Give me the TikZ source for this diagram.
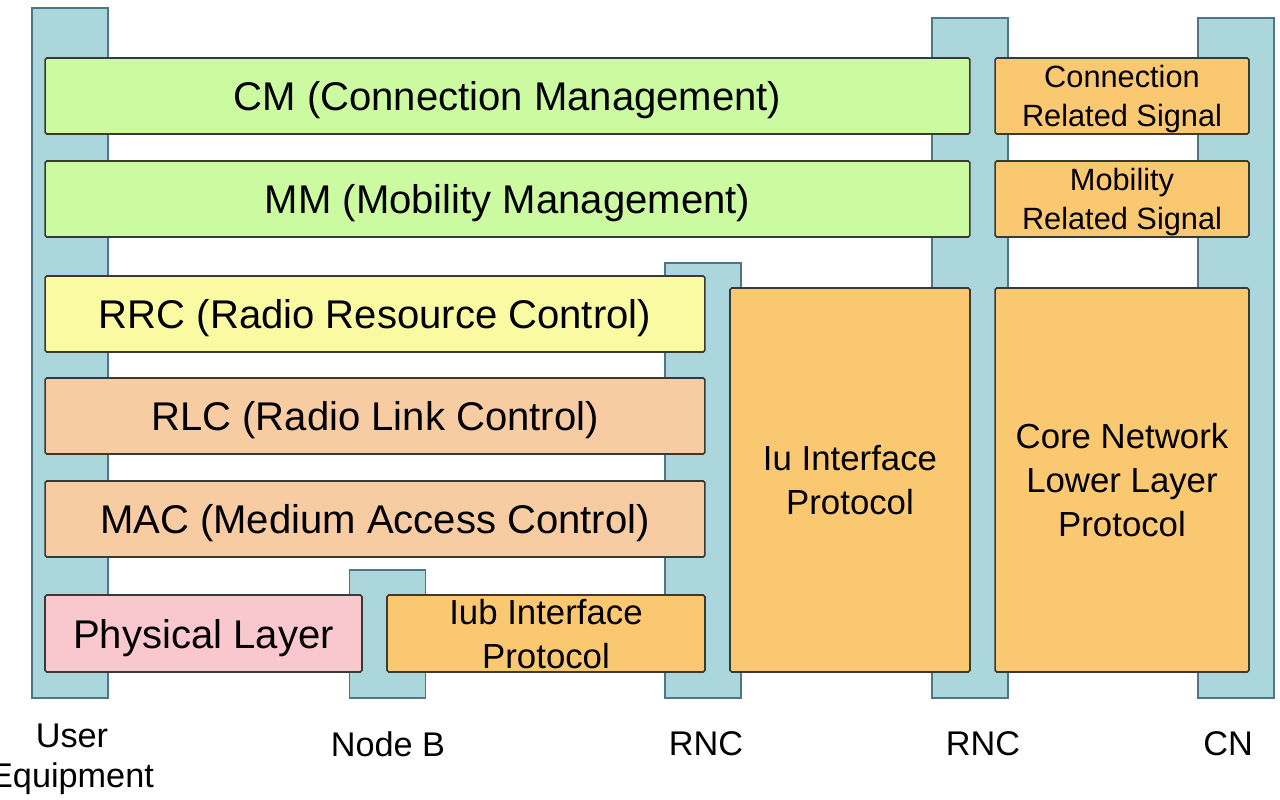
\documentclass[tikz,border=0pt]{standalone}
\usepackage{fontspec}
\setmainfont{Liberation Sans}
\usepackage{tikz}
\definecolor{pillarblue}{RGB}{171,214,220}
\definecolor{pillarline}{RGB}{78,118,136}
\definecolor{layergreen}{RGB}{204,250,160}
\definecolor{layeryellow}{RGB}{250,250,162}
\definecolor{layerpeach}{RGB}{248,204,162}
\definecolor{layerpink}{RGB}{248,200,206}
\definecolor{layerorange}{RGB}{250,200,112}
\definecolor{layerline}{RGB}{58,58,52}

\begin{document}
\begin{tikzpicture}[x=0.02cm,y=-0.02cm]
    \tikzstyle{pillar}=[draw=pillarline,fill=pillarblue,line width=0.9pt,inner sep=0pt,minimum width=1.52cm]
    \tikzstyle{layer}=[draw=layerline,line width=0.9pt,rounded corners=1pt,inner sep=0pt,text depth=0pt,align=center,font=\fontsize{22.8}{25}\selectfont]
    \tikzstyle{midtext}=[font=\fontsize{19.8}{25}\selectfont]
    \tikzstyle{smalltext}=[font=\fontsize{17.5}{22}\selectfont]
    \tikzstyle{site}=[align=center,font=\fontsize{19.5}{22.7}\selectfont]
    \useasboundingbox[fill=white] (0,0) rectangle (1280,800);
    % Draw the pillars of each network element
    \node[pillar,minimum height=13.8cm] (ue) at (70,353) {};
    \node[pillar,minimum height=2.56cm] (nodeb) at (387.5,634) {};
    \node[pillar,minimum height=8.7cm] (rnca) at (703,480.5) {};
    \node[pillar,minimum height=13.6cm] (rncb) at (970,358) {};
    \node[pillar,minimum height=13.6cm] (cn) at (1236,358) {};
    % Draw the upper layers
    \node[layer,fill=layergreen,minimum width=18.5cm,minimum height=1.52cm] (cm) at (507.5,96) {CM (Connection Management)};
    \node[layer,fill=layergreen,minimum width=18.5cm,minimum height=1.52cm] (mm) at (507.5,199) {MM (Mobility Management)};
    \node[layer,smalltext,fill=layerorange,minimum width=5.08cm,minimum height=1.52cm] (crs) at (1122,96) {Connection\\Related Signal};
    \node[layer,smalltext,fill=layerorange,minimum width=5.08cm,minimum height=1.52cm] (mrs) at (1122,199) {Mobility\\Related Signal};
    % Draw the radio layers
    \node[layer,fill=layeryellow,minimum width=13.2cm,minimum height=1.52cm] (rrc) at (375,314) {RRC (Radio Resource Control)};
    \node[layer,fill=layerpeach,minimum width=13.2cm,minimum height=1.52cm] (rlc) at (375,416) {RLC (Radio Link Control)};
    \node[layer,fill=layerpeach,minimum width=13.2cm,minimum height=1.52cm] (mac) at (375,519) {MAC (Medium Access Control)};
    \node[layer,fill=layerpink,minimum width=6.34cm,minimum height=1.54cm] (phy) at (203.5,633.5) {Physical Layer};
    % Draw the interface protocols
    \node[layer,midtext,fill=layerorange,minimum width=6.36cm,minimum height=1.54cm] (iub) at (546,633.5) {Iub Interface\\Protocol};
    \node[layer,midtext,fill=layerorange,minimum width=4.8cm,minimum height=7.68cm] (iu) at (850,480) {Iu Interface\\Protocol};
    \node[layer,midtext,fill=layerorange,minimum width=5.08cm,minimum height=7.68cm] (core) at (1122,480) {Core Network\\Lower Layer\\Protocol};
    % Draw the site labels
    \node[site] (uelabel) at (72,759) {User\\Equipment};
    \node[site] (nodeblabel) at (388,744) {Node B};
    \node[site] (rncalabel) at (706,744) {RNC};
    \node[site] (rncblabel) at (983,744) {RNC};
    \node[site] (cnlabel) at (1228,744) {CN};
\end{tikzpicture}
\end{document}
